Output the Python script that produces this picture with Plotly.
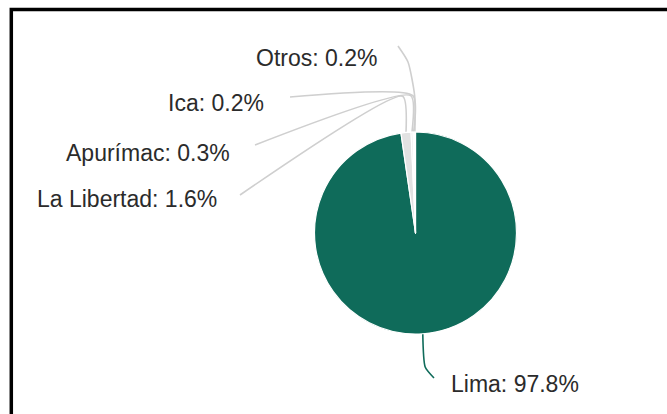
import math
import plotly.graph_objects as go

# Share of the total by region (%)
regions = ["Lima", "La Libertad", "Apurímac", "Ica", "Otros"]
shares = [97.8, 1.6, 0.3, 0.2, 0.2]
label_texts = [f"{r}: {s:.1f}%" for r, s in zip(regions, shares)]

W, H = 667, 414
CX, CY, R = 415.5, 233.0, 101.0          # pie centre and radius in px
GREEN = "#0f6b5a"
GREY = "#e2e2e2"
slice_colors = [GREEN, GREY, GREY, GREY, GREY]
line_colors = [GREEN, "#cfcfcf", "#cfcfcf", "#cfcfcf", "#cfcfcf"]

# label anchors (x, y, xanchor) and where each leader line begins
label_pos = {
    "Lima": (449, 384, "left"),
    "La Libertad": (219, 199, "right"),
    "Apurímac": (232, 153, "right"),
    "Ica": (266, 103, "right"),
    "Otros": (316, 58, "center"),
}
line_start = {
    "Lima": [(434, 378)],
    "La Libertad": [(240, 195)],
    "Apurímac": [(255, 145)],
    "Ica": [(290, 97)],
    "Otros": [(398, 46), (408, 62)],
}

fig = go.Figure()

fig.add_trace(go.Pie(
    labels=regions, values=shares, sort=False, direction="clockwise",
    rotation=0, textinfo="none", hoverinfo="label+percent",
    marker=dict(colors=slice_colors, line=dict(color="white", width=1.2)),
    domain=dict(x=[(CX - R) / W, (CX + R) / W],
                y=[1 - (CY + R) / H, 1 - (CY - R) / H]),
    showlegend=False,
))

# leader lines: label -> elbow on an outer ring -> slice edge at mid-angle
total = sum(shares)
acc = 0.0
for name, val, col in zip(regions, shares, line_colors):
    mid = (acc + val / 2) / total * 2 * math.pi
    acc += val
    sx, cy = math.sin(mid), math.cos(mid)
    edge = (CX + R * sx, CY - R * cy)
    ring = 1.36 if name != "Lima" else 1.33
    elbow = (CX + R * ring * sx, CY - R * ring * cy)
    pts = line_start[name] + [elbow, edge]
    fig.add_trace(go.Scatter(
        x=[p[0] for p in pts], y=[p[1] for p in pts], mode="lines",
        line=dict(color=col, width=1.6, shape="spline", smoothing=0.6),
        hoverinfo="skip", showlegend=False,
    ))

for name, txt in zip(regions, label_texts):
    x, y, anchor = label_pos[name]
    fig.add_annotation(x=x, y=y, xref="x", yref="y", text=txt,
                       showarrow=False, xanchor=anchor, yanchor="middle",
                       font=dict(family="Liberation Sans, Arial, sans-serif",
                                 size=23, color="#2b2b2b"))

# frame around the chart
fig.add_shape(type="rect", xref="x", yref="y", x0=11.3, y0=9.6, x1=720, y1=470,
              line=dict(color="black", width=3.5), fillcolor="rgba(0,0,0,0)")

fig.update_layout(
    width=W, height=H, margin=dict(l=0, r=0, t=0, b=0),
    paper_bgcolor="white", plot_bgcolor="rgba(0,0,0,0)",
    xaxis=dict(range=[0, W], visible=False, fixedrange=True),
    yaxis=dict(range=[H, 0], visible=False, fixedrange=True),
)

fig.write_html("out.html")
